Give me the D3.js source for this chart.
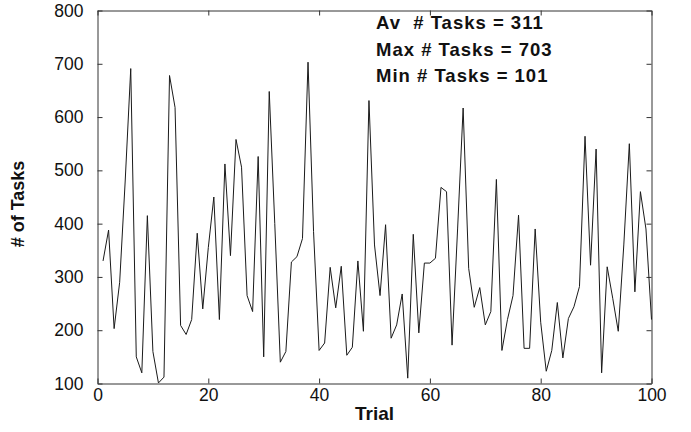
<!DOCTYPE html>
<html>
<head>
<meta charset="utf-8">
<script src="https://cdn.jsdelivr.net/npm/d3@7.9.0/dist/d3.min.js"></script>
<style>
  body { margin: 0; background: #fff; }
  svg { display: block; font-family: "Liberation Sans", Arial, sans-serif; }
</style>
</head>
<body>
<div id="chart"></div>
<script>
// number of tasks per trial (trial 1..100)
const taskCounts = [
    330, 388, 203, 290, 480, 691, 150, 120, 415, 160,
    101, 112, 678, 618, 209, 192, 220, 382, 240, 355,
    450, 220, 512, 340, 558, 506, 265, 235, 526, 150,
    648, 400, 140, 160, 328, 338, 372, 703, 385, 162,
    176, 318, 242, 320, 153, 168, 330, 198, 631, 360,
    265, 398, 185, 210, 268, 110, 380, 195, 326, 326,
    335, 468, 460, 172, 390, 617, 316, 243, 280, 210,
    235, 483, 162, 220, 265, 416, 166, 166, 390, 215,
    123, 162, 252, 148, 222, 244, 282, 564, 322, 540,
    120, 319, 260, 198, 360, 550, 272, 460, 390, 220
];
const xTicks = [0, 20, 40, 60, 80, 100];
const yTicks = [100, 200, 300, 400, 500, 600, 700, 800];
const statLines = ["Av  # Tasks = 311", "Max # Tasks = 703", "Min # Tasks = 101"];

const width = 691;
const height = 432;
const plot = { left: 97.5, right: 651.5, top: 10.5, bottom: 383.5 };

const svg = d3.select("#chart")
    .append("svg")
    .attr("width", width)
    .attr("height", height);

const xScale = d3.scaleLinear().domain([0, 100]).range([plot.left, plot.right]);
const yScale = d3.scaleLinear().domain([100, 800]).range([plot.bottom, plot.top]);

const axisColor = "#333";

// axes with inward ticks, matlab style box
const gx = svg.append("g")
    .attr("transform", `translate(0,${plot.bottom})`)
    .call(d3.axisBottom(xScale).tickValues(xTicks).tickSizeInner(-5).tickSizeOuter(0).tickPadding(5));
const gy = svg.append("g")
    .attr("transform", `translate(${plot.left},0)`)
    .call(d3.axisLeft(yScale).tickValues(yTicks).tickSizeInner(-5).tickSizeOuter(0).tickPadding(14));
const gxTop = svg.append("g")
    .attr("transform", `translate(0,${plot.top})`)
    .call(d3.axisTop(xScale).tickValues(xTicks).tickSizeInner(-5).tickSizeOuter(0).tickFormat(""));
const gyRight = svg.append("g")
    .attr("transform", `translate(${plot.right},0)`)
    .call(d3.axisRight(yScale).tickValues(yTicks).tickSizeInner(-5).tickSizeOuter(0).tickFormat(""));

[gx, gy, gxTop, gyRight].forEach(g => {
    g.selectAll("path, line").attr("stroke", axisColor);
    g.selectAll("text")
        .attr("fill", "#111")
        .style("font-size", "17.5px")
        .style("font-family", "'Liberation Sans', Arial, sans-serif");
});

// the series
const line = d3.line()
    .x((d, i) => xScale(i + 1))
    .y(d => yScale(d));

svg.append("path")
    .datum(taskCounts)
    .attr("fill", "none")
    .attr("stroke", "#1a1a1a")
    .attr("stroke-width", 1)
    .attr("d", line);

// stats text
svg.append("g")
    .selectAll("text")
    .data(statLines)
    .join("text")
    .attr("x", 376)
    .attr("y", (d, i) => 29 + i * 26.5)
    .attr("fill", "#111")
    .style("font-size", "18.5px")
    .style("letter-spacing", "1px")
    .style("font-weight", "bold")
    .style("white-space", "pre")
    .text(d => d);

// axis titles
svg.append("text")
    .attr("x", (plot.left + plot.right) / 2)
    .attr("y", 420)
    .attr("text-anchor", "middle")
    .attr("fill", "#111")
    .style("font-size", "19px")
    .style("font-weight", "bold")
    .text("Trial");

svg.append("text")
    .attr("transform", "translate(24,204) rotate(-90)")
    .attr("text-anchor", "middle")
    .attr("fill", "#111")
    .style("font-size", "18px")
    .style("font-weight", "bold")
    .text("# of Tasks");
</script>
</body>
</html>
